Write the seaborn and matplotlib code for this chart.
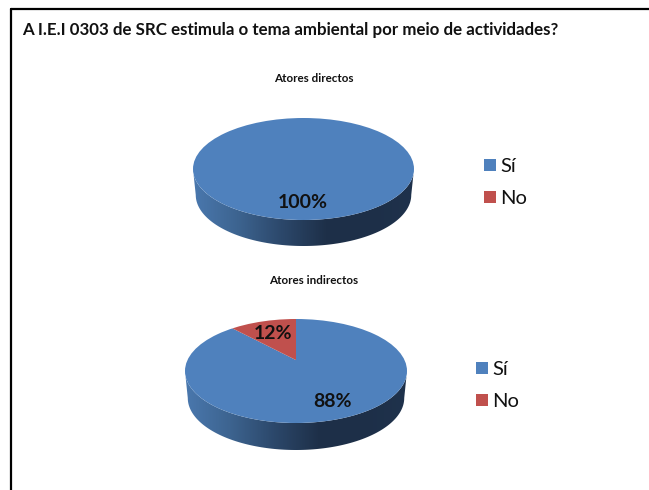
import numpy as np
import matplotlib
matplotlib.use("Agg")
import matplotlib.pyplot as plt
from matplotlib.colors import LinearSegmentedColormap
from matplotlib.lines import Line2D
from matplotlib.patches import Polygon, Ellipse
import seaborn as sns

title = "A I.E.I 0303 de SRC estimula o tema ambiental por meio de actividades?"
categories = ["Sí", "No"]
panel_titles = ["Atores directos", "Atores indirectos"]
values_direct = [100, 0]
values_indirect = [88, 12]
colors = ["#4F81BD", "#C0504D"]

W, H = 649, 490
sns.set_theme(style="white")
plt.rcParams["font.family"] = ["Lato", "DejaVu Sans"]
fig = plt.figure(figsize=(W / 100, H / 100), dpi=100, facecolor="white")

side_cmap = LinearSegmentedColormap.from_list(
    "side", ["#4A78AE", "#3D6490", "#2C486B", "#1E3049", "#1D2F48", "#1F324C"])


def fx(px):
    return px / W


def fy(py):
    return 1 - py / H


def draw_pie(vals, cx, cy, rx, ry, depth, head, head_y, labels, leg_x, leg_y):
    d = depth / ry
    ax = fig.add_axes([fx(cx - rx), fy(cy + ry + depth), 2 * rx / W, (2 * ry + depth) / H])
    # the apex sits above the ellipse centre, as in a perspective view of the disc
    wedges, _ = ax.pie(vals, colors=colors, startangle=90, counterclock=False,
                       radius=1.5, center=(0, 0.21), wedgeprops={"linewidth": 0, "zorder": 3})
    ax.set_aspect("auto")
    ax.set_xlim(-1, 1)
    ax.set_ylim(-1 - d, 1)
    face = Ellipse((0, 0), 2, 2, transform=ax.transData, facecolor="none", edgecolor="none")
    ax.add_patch(face)
    for w in wedges:
        w.set_clip_on(True)
        w.set_clip_path(face)
    # rim of the 3-D disc, filled with a horizontal gradient
    t = np.linspace(np.pi, 2 * np.pi, 200)
    xs, ys = np.cos(t), np.sin(t)
    rim = np.column_stack([np.r_[xs, 0.975 * xs[::-1]], np.r_[ys, ys[::-1] - d]])
    clip = Polygon(rim, closed=True, transform=ax.transData, facecolor="none", edgecolor="none")
    ax.add_patch(clip)
    im = ax.imshow(np.linspace(0, 1, 256)[None, :], extent=(-1, 1, -1 - d, 0),
                   cmap=side_cmap, aspect="auto", zorder=1)
    im.set_clip_path(clip)
    ax.set_xlim(-1, 1)
    ax.set_ylim(-1 - d, 1)
    for val, tx, ty in labels:
        ax.text((tx - cx) / rx, (cy - ty) / ry, f"{val}%", ha="center", va="center",
                fontsize=14, fontweight="bold", color="#111111", zorder=5)
    fig.text(fx(head[0]), fy(head_y), head[1], ha="center", va="center",
             fontsize=8.4, fontweight="bold", color="#111111")
    fig.legend(wedges, categories, loc="upper left", bbox_to_anchor=(fx(leg_x), fy(leg_y)),
               frameon=False, fontsize=14.5, handlelength=0.6, handleheight=0.6,
               handletextpad=0.22, labelspacing=0.75, borderpad=0, borderaxespad=0,
               labelcolor="#111111")


draw_pie(values_direct, 303.5, 169, 110.5, 51, 26, (314, panel_titles[0]), 79,
         [(values_direct[0], 303, 202)], 484, 158)
draw_pie(values_indirect, 296, 371, 111, 52, 27, (314, panel_titles[1]), 281,
         [(values_indirect[0], 333, 401), (values_indirect[1], 273, 333)], 476, 361)

fig.text(fx(22), fy(30), title, ha="left", va="center", fontsize=12.2, fontweight="bold", color="#111111")

fig.add_artist(Line2D([fx(11), fx(11)], [fy(9), 0], color="black", lw=1.6))
fig.add_artist(Line2D([fx(11), 1], [fy(9), fy(9)], color="black", lw=1.6))

fig.savefig("out.png", dpi=100, facecolor="white")
